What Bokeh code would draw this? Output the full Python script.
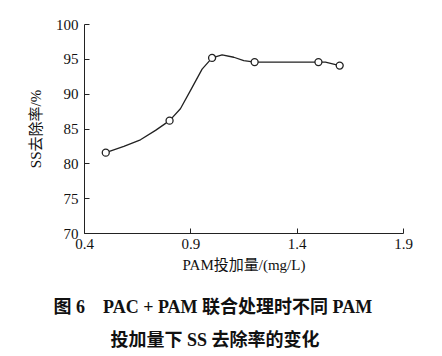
from bokeh.plotting import figure
from bokeh.models import Title, FixedTicker, Range1d
from bokeh.embed import file_html
from bokeh.resources import INLINE

# data
dose = [0.5, 0.8, 1.0, 1.2, 1.5, 1.6]
removal = [81.6, 86.2, 95.2, 94.6, 94.6, 94.1]
# hand-drawn smooth curve
curve_x = [0.5, 0.585, 0.663, 0.734, 0.8, 0.851, 0.898, 0.953, 1.0, 1.047, 1.102, 1.149, 1.2, 1.5, 1.533, 1.6]
curve_y = [81.6, 82.5, 83.45, 84.8, 86.2, 87.9, 90.5, 93.6, 95.2, 95.65, 95.3, 94.8, 94.6, 94.6, 94.6, 94.1]
x_ticks = [0.4, 0.9, 1.4, 1.9]
y_ticks = [70, 75, 80, 85, 90, 95, 100]

SERIF = "Liberation Serif, Noto Sans CJK SC"

p = figure(width=442, height=356, output_backend="svg", toolbar_location=None,
           x_range=Range1d(0.4, 1.9), y_range=Range1d(70, 100),
           min_border_left=84, min_border_right=39, min_border_top=24, min_border_bottom=123)
p.outline_line_color = None
p.grid.visible = False

for ax in (p.xaxis[0], p.yaxis[0]):
    ax.major_tick_in = 5
    ax.major_tick_out = 0
    ax.minor_tick_line_color = None
    ax.axis_line_color = "#222222"
    ax.major_tick_line_color = "#222222"
    ax.major_label_text_font = SERIF
    ax.major_label_text_font_size = "15px"
    ax.major_label_text_color = "#111111"
    ax.axis_label_text_font = SERIF
    ax.axis_label_text_font_size = "15px"
    ax.axis_label_text_font_style = "normal"
    ax.axis_label_text_color = "#111111"

p.xaxis.ticker = FixedTicker(ticks=x_ticks)
p.yaxis.ticker = FixedTicker(ticks=y_ticks)
p.xaxis.major_label_standoff = 5
p.yaxis.major_label_standoff = 6
p.xaxis.axis_label = "PAM投加量/(mg/L)"
p.yaxis.axis_label = "SS去除率/%"
p.xaxis.axis_label_standoff = 5
p.yaxis.axis_label_standoff = 9

p.line(curve_x, curve_y, line_color="#222222", line_width=1.3)
p.scatter(dose, removal, marker="circle", size=7, fill_color="white",
          line_color="#222222", line_width=1.3)

spacer = Title(text=" ", text_font_size="6px", standoff=0)
t1 = Title(text="图 6\u3000PAC + PAM 联合处理时不同 PAM", align="left",
           text_font=SERIF, text_font_size="18px", text_font_style="bold",
           text_color="#111111", offset=-31, standoff=22)
t2 = Title(text="投加量下 SS 去除率的变化", align="left",
           text_font=SERIF, text_font_size="18px", text_font_style="bold",
           text_color="#111111", offset=26, standoff=0)
p.add_layout(spacer, "below")
p.add_layout(t1, "below")
p.add_layout(t2, "below")

open("out.html", "w").write(file_html(p, INLINE))
